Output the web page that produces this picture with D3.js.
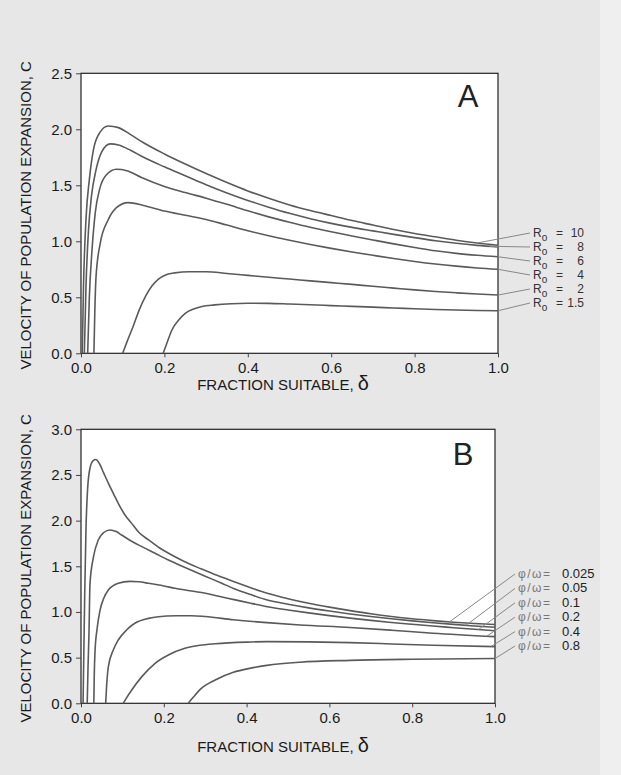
<!DOCTYPE html>
<html>
<head>
<meta charset="utf-8">
<script src="https://cdn.jsdelivr.net/npm/d3@7"></script>
<style>
  body { margin: 0; background: #e7e7e7; }
  svg { display: block; font-family: "Liberation Sans", Arial, Helvetica, sans-serif; }
</style>
</head>
<body>
<svg id="chart" width="621" height="775"></svg>
<script>
// panel A : R0 curves, [delta, c]
var r0Labels = ['10', '8', '6', '4', '2', '1.5'];
var r0Curves = [
  [[0.003,0],[0.006,0.6],[0.012,1.2],[0.02,1.55],[0.03,1.82],[0.045,1.97],[0.065,2.03],[0.09,2.015],[0.12,1.95],[0.15,1.88],[0.2,1.78],[0.25,1.69],[0.3,1.605],[0.35,1.525],[0.4,1.45],[0.45,1.385],[0.5,1.325],[0.55,1.275],[0.6,1.23],[0.65,1.185],[0.7,1.145],[0.75,1.105],[0.8,1.07],[0.85,1.04],[0.9,1.01],[0.95,0.985],[1.0,0.965]],
  [[0.008,0],[0.012,0.6],[0.018,1.1],[0.025,1.4],[0.035,1.62],[0.05,1.8],[0.07,1.87],[0.09,1.86],[0.12,1.81],[0.15,1.75],[0.2,1.665],[0.25,1.585],[0.3,1.505],[0.35,1.432],[0.4,1.365],[0.45,1.305],[0.5,1.25],[0.55,1.202],[0.6,1.16],[0.65,1.124],[0.7,1.093],[0.75,1.062],[0.8,1.033],[0.85,1.005],[0.9,0.982],[0.95,0.964],[1.0,0.95]],
  [[0.016,0],[0.02,0.5],[0.026,0.9],[0.034,1.25],[0.045,1.47],[0.06,1.59],[0.085,1.643],[0.11,1.63],[0.145,1.57],[0.2,1.49],[0.25,1.435],[0.3,1.385],[0.35,1.33],[0.4,1.272],[0.45,1.218],[0.5,1.17],[0.55,1.125],[0.6,1.085],[0.65,1.048],[0.7,1.012],[0.75,0.977],[0.8,0.945],[0.85,0.915],[0.9,0.892],[0.95,0.875],[1.0,0.862]],
  [[0.031,0],[0.033,0.35],[0.036,0.68],[0.046,0.98],[0.065,1.19],[0.085,1.3],[0.113,1.345],[0.15,1.32],[0.2,1.27],[0.25,1.232],[0.3,1.195],[0.35,1.145],[0.4,1.095],[0.45,1.05],[0.5,1.01],[0.55,0.972],[0.6,0.937],[0.65,0.905],[0.7,0.875],[0.75,0.846],[0.8,0.82],[0.85,0.797],[0.9,0.778],[0.95,0.762],[1.0,0.75]],
  [[0.1,0],[0.11,0.1],[0.125,0.24],[0.14,0.39],[0.155,0.51],[0.17,0.6],[0.185,0.66],[0.2,0.695],[0.225,0.718],[0.26,0.728],[0.3,0.728],[0.35,0.713],[0.4,0.696],[0.45,0.679],[0.5,0.663],[0.55,0.647],[0.6,0.631],[0.65,0.615],[0.7,0.598],[0.75,0.582],[0.8,0.566],[0.85,0.552],[0.9,0.54],[0.95,0.529],[1.0,0.52]],
  [[0.197,0],[0.205,0.08],[0.218,0.208],[0.235,0.3],[0.25,0.357],[0.27,0.395],[0.29,0.418],[0.32,0.432],[0.36,0.443],[0.4,0.447],[0.45,0.446],[0.5,0.44],[0.55,0.433],[0.6,0.426],[0.65,0.419],[0.7,0.412],[0.75,0.405],[0.8,0.398],[0.85,0.391],[0.9,0.386],[0.95,0.382],[1.0,0.38]]
];
var r0LeaderAt = [0.95, 0.98, 1.0, 1.0, 1.0, 1.0];

// panel B : phi/omega curves
var phiLabels = ['0.025', '0.05', '0.1', '0.2', '0.4', '0.8'];
var phiCurves = [
  [[0.005,0],[0.007,0.6],[0.009,1.2],[0.012,1.9],[0.016,2.35],[0.022,2.58],[0.03,2.66],[0.036,2.67],[0.045,2.62],[0.055,2.52],[0.066,2.41],[0.08,2.28],[0.09,2.19],[0.105,2.07],[0.1225,1.97],[0.14,1.87],[0.163,1.79],[0.19,1.7],[0.227,1.605],[0.26,1.53],[0.29,1.472],[0.33,1.398],[0.37,1.33],[0.41,1.265],[0.45,1.204],[0.5,1.145],[0.55,1.095],[0.6,1.053],[0.65,1.015],[0.7,0.98],[0.75,0.95],[0.8,0.925],[0.85,0.905],[0.9,0.888],[0.95,0.873],[1.0,0.862]],
  [[0.015,0],[0.017,0.4],[0.0193,0.77],[0.0217,1.31],[0.03,1.6],[0.042,1.79],[0.055,1.87],[0.07,1.898],[0.085,1.88],[0.098,1.843],[0.12,1.78],[0.147,1.715],[0.18,1.64],[0.211,1.569],[0.25,1.49],[0.3,1.392],[0.34,1.315],[0.37,1.255],[0.41,1.19],[0.45,1.131],[0.5,1.085],[0.55,1.045],[0.6,1.01],[0.65,0.978],[0.7,0.95],[0.75,0.925],[0.8,0.902],[0.85,0.882],[0.9,0.864],[0.95,0.847],[1.0,0.832]],
  [[0.031,0],[0.032,0.3],[0.034,0.58],[0.039,0.82],[0.046,1.02],[0.055,1.15],[0.066,1.24],[0.09,1.314],[0.118,1.335],[0.14,1.33],[0.163,1.314],[0.2,1.285],[0.227,1.259],[0.287,1.215],[0.33,1.175],[0.37,1.135],[0.41,1.095],[0.45,1.058],[0.5,1.022],[0.55,0.99],[0.6,0.96],[0.65,0.933],[0.7,0.908],[0.75,0.885],[0.8,0.865],[0.85,0.846],[0.9,0.828],[0.95,0.81],[1.0,0.795]],
  [[0.0596,0],[0.062,0.2],[0.066,0.4],[0.078,0.584],[0.09,0.693],[0.11,0.802],[0.13,0.876],[0.163,0.93],[0.187,0.948],[0.23,0.958],[0.267,0.959],[0.3,0.95],[0.368,0.915],[0.449,0.883],[0.529,0.858],[0.65,0.83],[0.75,0.8],[0.85,0.767],[1.0,0.73]],
  [[0.102,0],[0.11,0.06],[0.1225,0.146],[0.147,0.292],[0.179,0.438],[0.211,0.529],[0.251,0.602],[0.287,0.635],[0.324,0.652],[0.4,0.67],[0.449,0.675],[0.55,0.672],[0.65,0.664],[0.75,0.65],[0.85,0.635],[1.0,0.62]],
  [[0.259,0],[0.27,0.06],[0.29,0.16],[0.324,0.255],[0.368,0.34],[0.41,0.385],[0.449,0.415],[0.529,0.45],[0.65,0.47],[0.8,0.482],[1.0,0.49]]
];
var phiLeaderAt = [0.89, 0.93, 0.96, 0.98, 0.99, 1.0];

var xTicks = [0, 0.2, 0.4, 0.6, 0.8, 1.0];
var yTicksA = [0, 0.5, 1.0, 1.5, 2.0, 2.5];
var yTicksB = [0, 0.5, 1.0, 1.5, 2.0, 2.5, 3.0];

var svg = d3.select('#chart');
svg.append('rect').attr('x', 600).attr('y', 0).attr('width', 21).attr('height', 775).attr('fill', '#efefef');

var interp = function(curve, d){
  for(var i = 1; i < curve.length; i++){
    if(curve[i][0] >= d){
      var a = curve[i-1], b = curve[i];
      return a[1] + (b[1] - a[1]) * (d - a[0]) / (b[0] - a[0]);
    }
  }
  return curve[curve.length-1][1];
};

var drawPanel = function(opt){
  var x = d3.scaleLinear().domain([0, 1]).range([81, opt.right]);
  var y = d3.scaleLinear().domain([0, opt.ymax]).range([opt.bottom, opt.top]);
  var g = svg.append('g');

  g.append('rect')
    .attr('x', x(0)).attr('y', y(opt.ymax))
    .attr('width', x(1) - x(0)).attr('height', y(0) - y(opt.ymax))
    .attr('fill', '#fff').attr('stroke', '#222').attr('stroke-width', 1.2);

  var ya = g.append('g').attr('transform', 'translate(' + x(0) + ',0)')
    .call(d3.axisLeft(y).tickValues(opt.yTicks).tickSize(5).tickPadding(4).tickFormat(d3.format('.1f')));
  var xa = g.append('g').attr('transform', 'translate(0,' + y(0) + ')')
    .call(d3.axisBottom(x).tickValues(xTicks).tickSize(4).tickPadding(5).tickFormat(d3.format('.1f')));
  [ya, xa].forEach(function(a){
    a.select('.domain').remove();
    a.selectAll('line').attr('stroke', '#444');
    a.selectAll('text').attr('font-size', 15).attr('fill', '#1a1a1a').attr('font-family', null);
  });

  var line = d3.line().x(function(p){ return x(p[0]); }).y(function(p){ return y(p[1]); })
    .curve(d3.curveMonotoneX);
  g.selectAll('path.curve').data(opt.curves).enter().append('path')
    .attr('class', 'curve')
    .attr('d', line)
    .attr('fill', 'none').attr('stroke', '#5a5a5a').attr('stroke-width', 1.6);

  // leaders + labels
  opt.labels.forEach(function(lab, i){
    var by = opt.legendY + i * opt.legendStep;
    var at = opt.leaderAt[i];
    g.append('line')
      .attr('x1', opt.legendX - 3).attr('y1', by - 4)
      .attr('x2', x(at)).attr('y2', y(interp(opt.curves[i], at)))
      .attr('stroke', '#888').attr('stroke-width', 1);
    opt.drawLabel(g, lab, opt.legendX, by);
  });

  g.append('text').attr('x', opt.letterX).attr('y', opt.letterY)
    .attr('text-anchor', 'middle').attr('font-size', 31).attr('fill', '#222').text(opt.letter);

  var xt = g.append('text').attr('x', 283).attr('y', opt.xTitleY)
    .attr('text-anchor', 'middle').attr('font-size', 15).attr('fill', '#1a1a1a');
  xt.append('tspan').text('FRACTION SUITABLE, ');
  xt.append('tspan').attr('font-size', 20).text('δ');

  g.append('text')
    .attr('transform', 'translate(25,' + ((y(0) + y(opt.ymax)) / 2 + 2) + ') rotate(-90)')
    .attr('text-anchor', 'middle').attr('dominant-baseline', 'central')
    .attr('font-size', 15).attr('fill', '#1a1a1a')
    .text('VELOCITY OF POPULATION EXPANSION, C');
};

drawPanel({
  right: 498, top: 73.3, bottom: 353.3, ymax: 2.5, yTicks: yTicksA,
  curves: r0Curves, labels: r0Labels, leaderAt: r0LeaderAt,
  legendX: 533, legendY: 237, legendStep: 14,
  letter: 'A', letterX: 468, letterY: 107, xTitleY: 390,
  drawLabel: function(g, lab, lx, by){
    var t = g.append('text').attr('x', lx).attr('y', by).attr('font-size', 12).attr('fill', '#333');
    t.append('tspan').text('R');
    t.append('tspan').attr('dy', 4).attr('font-size', 10).text('o');
    g.append('text').attr('x', 556).attr('y', by).attr('font-size', 12).attr('fill', '#333').text('=');
    g.append('text').attr('x', 584).attr('y', by).attr('text-anchor', 'end')
      .attr('font-size', 12).attr('fill', '#333').text(lab);
  }
});

drawPanel({
  right: 495, top: 429.3, bottom: 703.3, ymax: 3.0, yTicks: yTicksB,
  curves: phiCurves, labels: phiLabels, leaderAt: phiLeaderAt,
  legendX: 518, legendY: 578, legendStep: 14.4,
  letter: 'B', letterX: 463, letterY: 465, xTitleY: 752,
  drawLabel: function(g, lab, lx, by){
    g.append('text').attr('x', lx).attr('y', by).attr('font-size', 12)
      .attr('letter-spacing', 1.5).attr('fill', '#777').text('φ/ω=');
    g.append('text').attr('x', 562).attr('y', by).attr('font-size', 13)
      .attr('fill', '#222').text(lab);
  }
});
</script>
</body>
</html>
